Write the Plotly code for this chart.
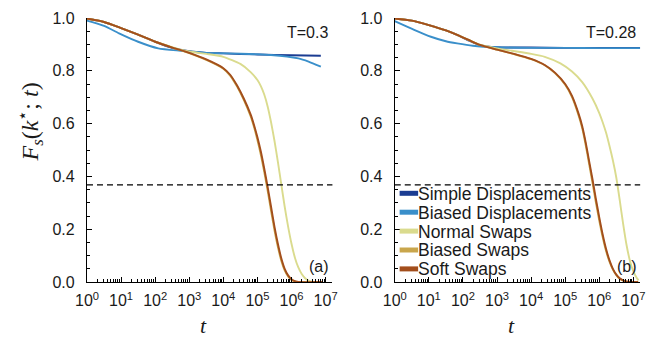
import plotly.graph_objects as go

# ---------------- data (log10 t, F_s) ----------------
# Panel (a) T=0.3
a_simple_lt = [0, 0.5, 1, 1.5, 2, 2.5, 3, 3.5, 4, 5, 6, 6.86]
a_simple_f = [0.998, 0.985, 0.962, 0.937, 0.91, 0.887, 0.874, 0.868, 0.866, 0.862, 0.859, 0.857]

a_biased_lt = [0, 0.5, 0.94, 1.5, 2.09, 2.74, 3.5, 4.46, 5.4, 6.2, 6.5, 6.86]
a_biased_f = [0.99, 0.97, 0.942, 0.91, 0.885, 0.876, 0.868, 0.865, 0.86, 0.847, 0.835, 0.816]

a_normal_lt = [0, 0.5, 1, 1.5, 2, 2.5, 3, 3.5, 4, 4.5, 4.8, 5.0, 5.1, 5.2, 5.3, 5.4, 5.5, 5.6, 5.7,
               5.8, 5.9, 6.0, 6.1, 6.2, 6.3, 6.4, 6.5, 6.6, 6.9]
a_normal_f = [0.998, 0.985, 0.962, 0.937, 0.91, 0.89, 0.873, 0.864, 0.853, 0.826, 0.795, 0.765, 0.742, 0.71,
              0.665, 0.605, 0.535, 0.455, 0.37, 0.285, 0.21, 0.145, 0.092, 0.055, 0.03, 0.014, 0.005, 0.0, 0.0]

a_bswap_lt = [0, 0.5, 1, 1.5, 2, 2.5, 3, 3.5, 4, 4.2, 4.4, 4.6, 4.8, 4.9, 5.0, 5.1, 5.2, 5.3, 5.4, 5.5,
              5.6, 5.7, 5.8, 5.9, 6.0, 6.1, 6.2, 6.9]
a_bswap_f = [0.998, 0.985, 0.962, 0.937, 0.91, 0.888, 0.867, 0.841, 0.808, 0.782, 0.741, 0.69, 0.628, 0.587,
             0.538, 0.482, 0.417, 0.346, 0.27, 0.197, 0.133, 0.081, 0.044, 0.021, 0.008, 0.002, 0.0, 0.0]

a_soft_lt = [0, 0.5, 1, 1.5, 2, 2.5, 3, 3.5, 4, 4.2, 4.4, 4.6, 4.8, 4.9, 5.0, 5.1, 5.2, 5.3, 5.4, 5.5,
             5.6, 5.7, 5.8, 5.9, 6.0, 6.1, 6.2, 6.9]
a_soft_f = [0.998, 0.985, 0.962, 0.937, 0.91, 0.888, 0.868, 0.843, 0.81, 0.785, 0.745, 0.695, 0.635, 0.595,
            0.548, 0.494, 0.43, 0.36, 0.285, 0.21, 0.145, 0.09, 0.05, 0.025, 0.01, 0.003, 0.0, 0.0]

# Panel (b) T=0.28
b_simple_lt = [0, 0.5, 1, 1.5, 1.83, 2.2, 2.5, 3, 4, 5, 6, 7.2]
b_simple_f = [0.998, 0.99, 0.973, 0.953, 0.936, 0.913, 0.897, 0.889, 0.888, 0.887, 0.887, 0.887]

b_biased_lt = [0, 0.57, 1.06, 1.5, 1.83, 2.29, 3, 4, 5, 6, 7.2]
b_biased_f = [0.988, 0.955, 0.929, 0.912, 0.904, 0.895, 0.889, 0.887, 0.887, 0.886, 0.886]

b_normal_lt = [0, 0.5, 1, 1.5, 1.83, 2.2, 2.5, 3, 3.43, 4.0, 4.4, 4.86, 5.2, 5.5, 5.8, 6.0, 6.1, 6.2, 6.3,
               6.4, 6.5, 6.6, 6.7, 6.8, 6.9, 7.0, 7.1, 7.15]
b_normal_f = [0.998, 0.99, 0.973, 0.953, 0.936, 0.915, 0.899, 0.885, 0.876, 0.864, 0.853, 0.828, 0.797, 0.757,
              0.695, 0.64, 0.605, 0.565, 0.515, 0.46, 0.395, 0.31, 0.22, 0.14, 0.08, 0.04, 0.015, 0.006]

b_bswap_lt = [0, 0.5, 1, 1.5, 1.83, 2.2, 2.5, 3, 3.5, 4.0, 4.4, 4.7, 5.0, 5.2, 5.4, 5.5, 5.6, 5.7, 5.8,
              5.9, 6.0, 6.1, 6.2, 6.3, 6.4, 6.5, 6.6, 6.7, 6.8, 6.9, 7.14]
b_bswap_f = [0.998, 0.99, 0.973, 0.953, 0.936, 0.915, 0.898, 0.88, 0.863, 0.844, 0.821, 0.791, 0.747, 0.7,
             0.628, 0.582, 0.52, 0.449, 0.377, 0.302, 0.233, 0.17, 0.117, 0.077, 0.047, 0.026, 0.012,
             0.005, 0.001, 0.0, 0.0]

b_soft_lt = [0, 0.5, 1, 1.5, 1.83, 2.2, 2.5, 3, 3.5, 4.0, 4.4, 4.7, 5.0, 5.2, 5.4, 5.5, 5.6, 5.7, 5.8,
             5.9, 6.0, 6.1, 6.2, 6.3, 6.4, 6.5, 6.6, 6.7, 6.8, 6.9, 7.14]
b_soft_f = [0.998, 0.99, 0.973, 0.953, 0.936, 0.915, 0.898, 0.88, 0.864, 0.845, 0.822, 0.793, 0.75, 0.705,
            0.635, 0.59, 0.53, 0.46, 0.39, 0.315, 0.245, 0.18, 0.125, 0.082, 0.05, 0.028, 0.014,
            0.006, 0.002, 0.0, 0.0]

threshold = 0.368  # 1/e dashed line

series_names = ["Simple Displacements", "Biased Displacements", "Normal Swaps", "Biased Swaps", "Soft Swaps"]
series_colors = ["#1b3c92", "#3a8fca", "#dadb8e", "#c9a64c", "#a34e1c"]

x_tickvals_exp = [0, 1, 2, 3, 4, 5, 6, 7]
y_tickvals = [0.0, 0.2, 0.4, 0.6, 0.8, 1.0]
panel_temps = ["T=0.3", "T=0.28"]
panel_labels = ["(a)", "(b)"]

panels = [
    [(a_simple_lt, a_simple_f), (a_biased_lt, a_biased_f), (a_normal_lt, a_normal_f),
     (a_bswap_lt, a_bswap_f), (a_soft_lt, a_soft_f)],
    [(b_simple_lt, b_simple_f), (b_biased_lt, b_biased_f), (b_normal_lt, b_normal_f),
     (b_bswap_lt, b_bswap_f), (b_soft_lt, b_soft_f)],
]

W, H = 652, 337
MT, MB = 18, 55
PH = H - MT - MB  # plot height in px
dom1 = [77 / W, 329 / W]
dom2 = [393 / W, 645 / W]


def px_x(px):
    return px / W


def px_y(py):
    return (H - MB - py) / PH


fig = go.Figure()

for p, series in enumerate(panels):
    xa = "x" if p == 0 else "x2"
    ya = "y" if p == 0 else "y2"
    for i, (lt, f) in enumerate(series):
        fig.add_trace(go.Scatter(
            x=[10 ** v for v in lt], y=f, mode="lines", name=series_names[i],
            line=dict(color=series_colors[i], width=1.9, shape="spline", smoothing=0.6),
            xaxis=xa, yaxis=ya, showlegend=False, hoverinfo="skip"))

tick_font = dict(family="Liberation Sans, Arial", size=16, color="#1a1a1a")
ticktext = ["10<sup>%d</sup>" % e for e in x_tickvals_exp]

xcommon = dict(type="log", range=[0, 7.2], showline=True, linecolor="black", linewidth=1.3,
               showgrid=False, zeroline=False, ticks="inside", ticklen=5, tickcolor="black",
               tickmode="array", tickvals=[10 ** e for e in x_tickvals_exp], ticktext=ticktext,
               tickfont=tick_font, ticklabelstandoff=4,
               minor=dict(ticks="inside", ticklen=3, tickcolor="black", dtick="D1"))
ycommon = dict(range=[0, 1.0], showline=True, linecolor="black", linewidth=1.3,
               showgrid=False, zeroline=False, ticks="inside", ticklen=5, tickcolor="black",
               tickmode="array", tickvals=y_tickvals, tickformat=".1f", tickfont=tick_font,
               ticklabelstandoff=8,
               minor=dict(ticks="inside", ticklen=3, tickcolor="black", dtick=0.05))

fig.update_layout(
    width=W, height=H, margin=dict(l=0, r=0, t=MT, b=MB),
    paper_bgcolor="white", plot_bgcolor="white",
    xaxis=dict(domain=dom1, anchor="y", **xcommon),
    yaxis=dict(domain=[0, 1], anchor="x", **ycommon),
    xaxis2=dict(domain=dom2, anchor="y2", **xcommon),
    yaxis2=dict(domain=[0, 1], anchor="x2", **ycommon),
    showlegend=False,
)

for xr, yr in [("x", "y"), ("x2", "y2")]:
    fig.add_shape(type="line", xref=xr + " domain", yref=yr, x0=0, x1=1, y0=threshold, y1=threshold,
                  line=dict(color="black", width=1.2, dash="6px,4px"))

# manual legend (compact spacing as in the reference)
leg_font = dict(family="Liberation Sans, Arial", size=17.5, color="#1a1a1a")
leg_top, leg_step = 193.3, 18.9
for i, name in enumerate(series_names):
    yc = leg_top + i * leg_step
    fig.add_shape(type="line", xref="paper", yref="paper", x0=px_x(398), x1=px_x(417),
                  y0=px_y(yc), y1=px_y(yc), line=dict(color=series_colors[i], width=5))
    fig.add_annotation(text=name, xref="paper", yref="paper", x=px_x(417), y=px_y(yc + 0.5),
                       xanchor="left", yanchor="middle", showarrow=False, font=leg_font,
                       xshift=-2)

ann_font = dict(family="Liberation Sans, Arial", size=16, color="#1a1a1a")
for p, (xr, yr) in enumerate([("x", "y"), ("x2", "y2")]):
    fig.add_annotation(text=panel_temps[p], xref=xr + " domain", yref=yr + " domain",
                       x=0.99, y=0.945, xanchor="right", yanchor="middle", showarrow=False, font=ann_font)
    fig.add_annotation(text=panel_labels[p], xref=xr + " domain", yref=yr + " domain",
                       x=0.995, y=0.06, xanchor="right", yanchor="middle", showarrow=False, font=ann_font)
    fig.add_annotation(text="<i>t</i>", xref=xr + " domain", yref="paper",
                       x=0.475, y=-0.165, xanchor="center", yanchor="middle", showarrow=False,
                       font=dict(family="Liberation Serif, DejaVu Serif", size=22, color="#1a1a1a"))

fig.add_annotation(text="<i>F<sub>s</sub></i>(<i>k</i><sup>⋆</sup>; <i>t</i>)", xref="paper", yref="paper",
                   x=18 / W, y=px_y(150), textangle=-90, xanchor="center", yanchor="middle", showarrow=False,
                   yshift=28,
                   font=dict(family="Liberation Serif, DejaVu Serif", size=24, color="#1a1a1a"))

fig.write_html("out.html")
